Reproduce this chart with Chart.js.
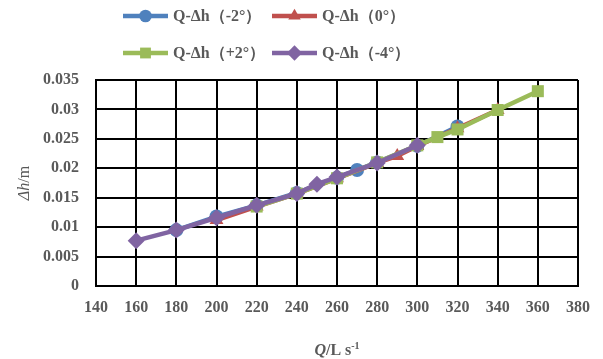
<!DOCTYPE html>
<html>
<head>
<meta charset="utf-8">
<script src="https://cdn.jsdelivr.net/npm/chart.js@4/dist/chart.umd.min.js"></script>
<style>
  html, body { margin: 0; padding: 0; background: #ffffff; }
  #wrap { width: 603px; height: 359px; }
</style>
</head>
<body>
<div id="wrap"><canvas id="c" width="603" height="359"></canvas></div>
<script>
// Head loss Δh (m) against discharge Q (L/s) for four blade angles
const seriesNames = ['Q-Δh（-2°）', 'Q-Δh（0°）', 'Q-Δh（+2°）', 'Q-Δh（-4°）'];

const qMinus2 = [180, 200, 220, 240, 260, 270, 280, 300, 320];
const hMinus2 = [0.0095, 0.0118, 0.0137, 0.0158, 0.0184, 0.0197, 0.0210, 0.0238, 0.0271];

const qZero = [200, 220, 240, 260, 280, 290, 300, 320, 340];
const hZero = [0.0112, 0.0135, 0.0157, 0.0183, 0.0209, 0.0221, 0.0238, 0.0268, 0.0299];

const qPlus2 = [220, 240, 260, 280, 300, 310, 320, 340, 360];
const hPlus2 = [0.0135, 0.0157, 0.0183, 0.0210, 0.0239, 0.0253, 0.0266, 0.0299, 0.0331];

const qMinus4 = [160, 180, 200, 220, 240, 250, 260, 280, 300];
const hMinus4 = [0.0077, 0.0095, 0.0116, 0.0137, 0.0157, 0.0173, 0.0185, 0.0209, 0.0239];

const xTickValues = [140, 160, 180, 200, 220, 240, 260, 280, 300, 320, 340, 360, 380];
const yTickLabels = ['0', '0.005', '0.01', '0.015', '0.02', '0.025', '0.03', '0.035'];

const colors = ['#4F81BD', '#C0504D', '#9BBB59', '#8064A2'];
const markers = ['circle', 'triangle', 'rect', 'rectRot'];
const radii = [7, 8, 8.5, 8.5];
const textGrey = '#595959';
const serif = '"Liberation Serif", "Times New Roman", serif';

function pts(xs, ys) { return xs.map((x, i) => ({ x: x, y: ys[i] })); }

const rawSeries = [[qMinus2, hMinus2], [qZero, hZero], [qPlus2, hPlus2], [qMinus4, hMinus4]];
const datasets = rawSeries.map((s, i) => ({
  label: seriesNames[i],
  data: pts(s[0], s[1]),
  showLine: true,
  borderColor: colors[i],
  backgroundColor: colors[i],
  borderWidth: 4.5,
  pointStyle: markers[i],
  pointRadius: radii[i],
  pointHoverRadius: radii[i],
  pointBorderWidth: 0,
  order: 4 - i
}));

// Legend in two rows: line segment with marker, then the series name
const legendPlugin = {
  id: 'twoRowLegend',
  afterDraw(chart) {
    const ctx = chart.ctx;
    const slots = [
      { x: 123, y: 16 }, { x: 272, y: 16 },
      { x: 123, y: 53 }, { x: 272, y: 53 }
    ];
    ctx.save();
    chart.data.datasets.forEach((ds, i) => {
      const s = slots[i];
      ctx.strokeStyle = ds.borderColor;
      ctx.lineWidth = 4.5;
      ctx.beginPath();
      ctx.moveTo(s.x, s.y);
      ctx.lineTo(s.x + 45, s.y);
      ctx.stroke();
      ctx.fillStyle = ds.backgroundColor;
      ctx.strokeStyle = ds.backgroundColor;
      Chart.helpers.drawPoint(ctx, { pointStyle: ds.pointStyle, radius: ds.pointRadius * 0.9, rotation: 0, borderWidth: 0 }, s.x + 22.5, s.y);
      ctx.fillStyle = textGrey;
      ctx.font = 'bold 16px ' + serif;
      ctx.textAlign = 'left';
      ctx.textBaseline = 'middle';
      ctx.fillText(ds.label, s.x + 50, s.y + 1);
    });
    ctx.restore();
  }
};

// Axis titles with italic symbols and a superscript unit
const axisTitlePlugin = {
  id: 'axisTitles',
  afterDraw(chart) {
    const ctx = chart.ctx;
    const area = chart.chartArea;
    ctx.save();
    ctx.fillStyle = textGrey;
    ctx.textBaseline = 'middle';

    // x title: Q/L s^-1
    const f1 = 'bold italic 16px ' + serif;
    const f2 = 'bold 16px ' + serif;
    const f3 = 'bold 10px ' + serif;
    ctx.font = f1; const wQ = ctx.measureText('Q').width;
    ctx.font = f2; const wU = ctx.measureText('/L s').width;
    ctx.font = f3; const wS = ctx.measureText('-1').width;
    let x = (area.left + area.right) / 2 - (wQ + wU + wS) / 2;
    const y = 351;
    ctx.textAlign = 'left';
    ctx.font = f1; ctx.fillText('Q', x, y); x += wQ;
    ctx.font = f2; ctx.fillText('/L s', x, y); x += wU;
    ctx.font = f3; ctx.fillText('-1', x, y - 5);

    // y title: Δh/m, rotated
    ctx.translate(25, (area.top + area.bottom) / 2);
    ctx.rotate(-Math.PI / 2);
    const g1 = 'italic 16px ' + serif;
    const g2 = '16px ' + serif;
    ctx.font = g1; const wD = ctx.measureText('Δh').width;
    ctx.font = g2; const wM = ctx.measureText('/m').width;
    let tx = -(wD + wM) / 2;
    ctx.font = g1; ctx.fillText('Δh', tx, 0); tx += wD;
    ctx.font = g2; ctx.fillText('/m', tx, 0);
    ctx.restore();
  }
};

new Chart(document.getElementById('c'), {
  type: 'scatter',
  data: { datasets: datasets },
  options: {
    responsive: false,
    animation: false,
    events: [],
    layout: { padding: { left: 0, right: 25, top: 80, bottom: 0 } },
    plugins: {
      legend: { display: false },
      tooltip: { enabled: false },
      title: { display: false }
    },
    scales: {
      x: {
        type: 'linear',
        min: xTickValues[0],
        max: xTickValues[xTickValues.length - 1],
        afterBuildTicks(scale) { scale.ticks = xTickValues.map(v => ({ value: v })); },
        afterFit(scale) { scale.height = 73; },
        grid: { color: '#000000', lineWidth: 2, drawTicks: false },
        border: { color: '#000000', width: 2 },
        ticks: {
          padding: 12,
          color: textGrey,
          font: { family: serif, size: 16, weight: 'bold' },
          maxRotation: 0,
          autoSkip: false,
          callback: (v) => String(v)
        }
      },
      y: {
        type: 'linear',
        min: 0,
        max: 0.035,
        afterBuildTicks(scale) { scale.ticks = yTickLabels.map(l => ({ value: parseFloat(l) })); },
        afterFit(scale) { scale.width = 96; },
        grid: { color: '#000000', lineWidth: 2, drawTicks: false },
        border: { color: '#000000', width: 2 },
        ticks: {
          padding: 17,
          color: textGrey,
          font: { family: serif, size: 16, weight: 'bold' },
          autoSkip: false,
          callback: (v, i) => yTickLabels[i]
        }
      }
    }
  },
  plugins: [legendPlugin, axisTitlePlugin]
});
</script>
</body>
</html>
